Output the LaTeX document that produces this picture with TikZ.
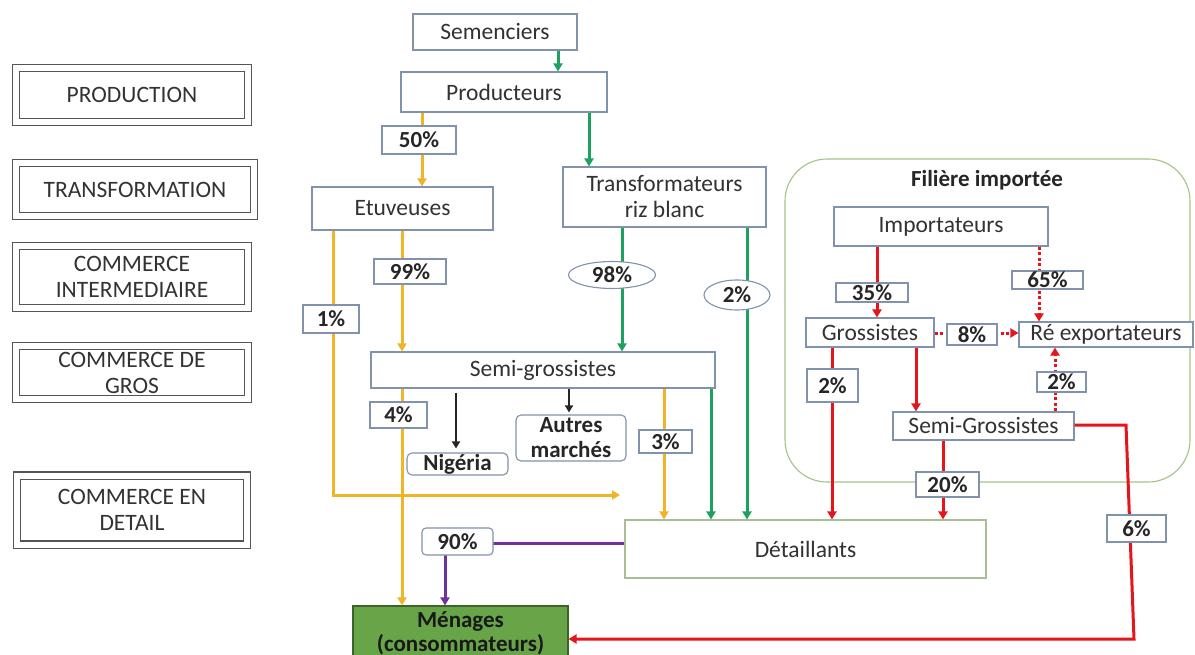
\documentclass[tikz,border=0pt]{standalone}
\usepackage{fontspec}
\setmainfont{Carlito}
\usetikzlibrary{arrows.meta,shapes.geometric}
\definecolor{txt}{RGB}{50,50,50}
\definecolor{bxb}{RGB}{128,146,172}
\definecolor{lgr}{RGB}{85,85,85}
\definecolor{detb}{RGB}{170,190,150}
\definecolor{contb}{RGB}{165,195,135}
\definecolor{cyel}{RGB}{240,180,40}
\definecolor{cgrn}{RGB}{30,160,95}
\definecolor{cred}{RGB}{228,22,28}
\definecolor{cpur}{RGB}{112,48,160}
\definecolor{menf}{RGB}{104,164,72}
\definecolor{menb}{RGB}{60,100,40}
\newcommand\mkbox[7][]{\node[#1,minimum width={(#4-#2)*1pt},minimum height={(#5-#3)*1pt}] (#6) at ({(#2+#4)/2},{(#3+#5)/2}) {#7};}
\tikzset{
  every node/.style={font=\fontsize{23.5}{26}\selectfont, text=txt},
  mbox/.style={draw=bxb, line width=1.1pt, fill=white, inner sep=0pt, align=center},
  pct/.style={draw=bxb, line width=1.1pt, fill=white, inner sep=0pt, text=black!85, font=\fontsize{23}{26}\selectfont\bfseries},
  lbox/.style={draw=lgr, line width=1.4pt, double=white, double distance=6pt, inner sep=0pt, align=center, text=black!80},
  flow/.style={line width=3pt, -{Triangle[length=8pt,width=9pt]}},
  yel/.style={flow, draw=cyel},
  grn/.style={flow, draw=cgrn},
  rd/.style={flow, draw=cred},
  rdot/.style={flow, draw=cred, dash pattern=on 3pt off 2.5pt},
  pur/.style={flow, draw=cpur},
  blk/.style={line width=2.6pt, draw=black!85, -{Triangle[length=7pt,width=8pt]}},
  oval/.style={ellipse, draw=bxb, line width=1.1pt, fill=white, inner sep=0pt, text=black!85, font=\fontsize{23}{26}\selectfont\bfseries}
}
\begin{document}
\begin{tikzpicture}[x=1pt,y=-1pt]
\useasboundingbox[fill=white] (0,0) rectangle (1195,655);

% left level boxes
\node[lbox, minimum width=232pt, minimum height=54pt] (lprod) at (132,95) {PRODUCTION};
\node[lbox, minimum width=238pt, minimum height=53pt] (ltrans) at (135,189.5) {TRANSFORMATION};
\node[lbox, minimum width=232pt, minimum height=62pt] (lci) at (132,277) {COMMERCE\\INTERMEDIAIRE};
\node[lbox, minimum width=232pt, minimum height=53pt] (lcdg) at (132,372.5) {COMMERCE DE\\GROS};
\node[lbox, minimum width=230pt, minimum height=69pt] (lced) at (132,510) {COMMERCE EN\\DETAIL};

% imported chain container
\draw[draw=contb, line width=1.1pt, rounded corners=42pt] (785,159) rectangle (1190,482);
\node[font=\fontsize{23}{26}\selectfont\bfseries, text=black!85] (filt) at (987,180) {Filière importée};

% main boxes
\mkbox[mbox]{413}{14}{577}{50}{sem}{Semenciers}
\mkbox[mbox]{401}{72}{607}{112}{prod}{Producteurs}
\mkbox[mbox]{312}{187}{493}{230}{etuv}{Etuveuses}
\mkbox[mbox]{563}{167}{766}{227}{trans}{Transformateurs\\riz blanc}
\mkbox[mbox]{371}{352}{715}{388}{semi}{Semi-grossistes}
\mkbox[mbox,draw=detb]{625}{520}{986}{578}{det}{Détaillants}
\mkbox[mbox]{834}{207}{1048}{246}{imp}{Importateurs}
\mkbox[mbox]{806}{318}{934}{347}{gros}{Grossistes}
\mkbox[mbox]{1019}{322}{1193}{347}{reexp}{Ré exportateurs}
\mkbox[mbox]{893}{412}{1074}{440}{sgi}{Semi-Grossistes}
\mkbox[mbox,rounded corners=5pt,font=\fontsize{23}{25}\selectfont\bfseries,text=black!85]{407}{453}{508}{475}{nig}{Nigéria}
\mkbox[mbox,rounded corners=5pt,font=\fontsize{23}{25}\selectfont\bfseries,text=black!85]{516}{415}{626}{461}{autres}{Autres\\marchés}
\mkbox[mbox,fill=menf,draw=menb,text=black!90,font=\fontsize{23}{24}\selectfont\bfseries]{353}{606}{568}{660}{men}{Ménages\\(consommateurs)}

\coordinate (c1) at (620,495);
\coordinate (cr1) at (1126,425);
\coordinate (cr2) at (1134,639);

% green flows
\draw[grn] (sem.south -| 558,0) -- (prod.north -| 558,0);
\draw[grn] (prod.south -| 589,0) -- (trans.north -| 589,0);
\draw[grn] (trans.south -| 622,0) -- (semi.north -| 622,0);
\draw[grn] (trans.south -| 747,0) -- (det.north -| 747,0);
\draw[grn] (semi.south -| 711,0) -- (det.north -| 711,0);

% yellow flows
\draw[yel] (prod.south -| 422,0) -- (etuv.north -| 422,0);
\draw[yel] (etuv.south -| 402,0) -- (semi.north -| 402,0);
\draw[yel] (etuv.south -| 333,0) -- (333,495) -- (c1);
\draw[yel] (semi.south -| 402,0) -- (men.north -| 402,0);
\draw[yel] (semi.south -| 664,0) -- (det.north -| 664,0);

% black flows
\draw[blk, shorten <=4pt, shorten >=4pt] (semi.south -| 456,0) -- (nig.north -| 456,0);
\draw[blk, shorten >=2pt] (semi.south -| 569,0) -- (autres.north -| 569,0);

% purple flow
\draw[pur] (det.west |- 0,543) -- (445,543) -- (men.north -| 445,0);

% red flows
\draw[rd] (imp.south -| 877,0) -- (gros.north -| 877,0);
\draw[rdot] (imp.south -| 1039,0) -- (reexp.north -| 1039,0);
\draw[rdot] (gros.east |- 0,333) -- (reexp.west |- 0,333);
\draw[rd] (gros.south -| 916,0) -- (sgi.north -| 916,0);
\draw[rd] (gros.south -| 832,0) -- (det.north -| 832,0);
\draw[rdot] (sgi.north -| 1055,0) -- (reexp.south -| 1055,0);
\draw[rd] (sgi.south -| 943,0) -- (det.north -| 943,0);
\draw[rd] (sgi.east |- cr1) -- (cr1) -- (cr2) -- (men.east |- cr2);

% percentage labels
\mkbox[pct]{382}{126}{456}{154}{p50}{50\%}
\mkbox[pct]{374}{259}{446}{284}{p99}{99\%}
\mkbox[pct]{303}{305}{359}{333}{p1}{1\%}
\mkbox[pct]{370}{402}{427}{428}{p4}{4\%}
\mkbox[pct]{639}{430}{692}{453}{p3}{3\%}
\mkbox[pct,rounded corners=4pt]{422}{528}{493}{555}{p90}{90\%}
\mkbox[pct]{836}{283}{908}{302}{p35}{35\%}
\mkbox[pct]{1012}{271}{1083}{289}{p65}{65\%}
\mkbox[pct]{947}{324}{997}{345}{p8}{8\%}
\mkbox[pct]{807}{369}{858}{402}{p2a}{2\%}
\mkbox[pct]{1037}{372}{1086}{392}{p2b}{2\%}
\mkbox[pct]{916}{472}{979}{497}{p20}{20\%}
\mkbox[pct]{1107}{515}{1166}{542}{p6}{6\%}
\node[oval, minimum width=87pt, minimum height=27pt] (e98) at (612,275) {98\%};
\node[oval, minimum width=66pt, minimum height=30pt] (e2) at (737,295) {2\%};
\end{tikzpicture}
\end{document}
